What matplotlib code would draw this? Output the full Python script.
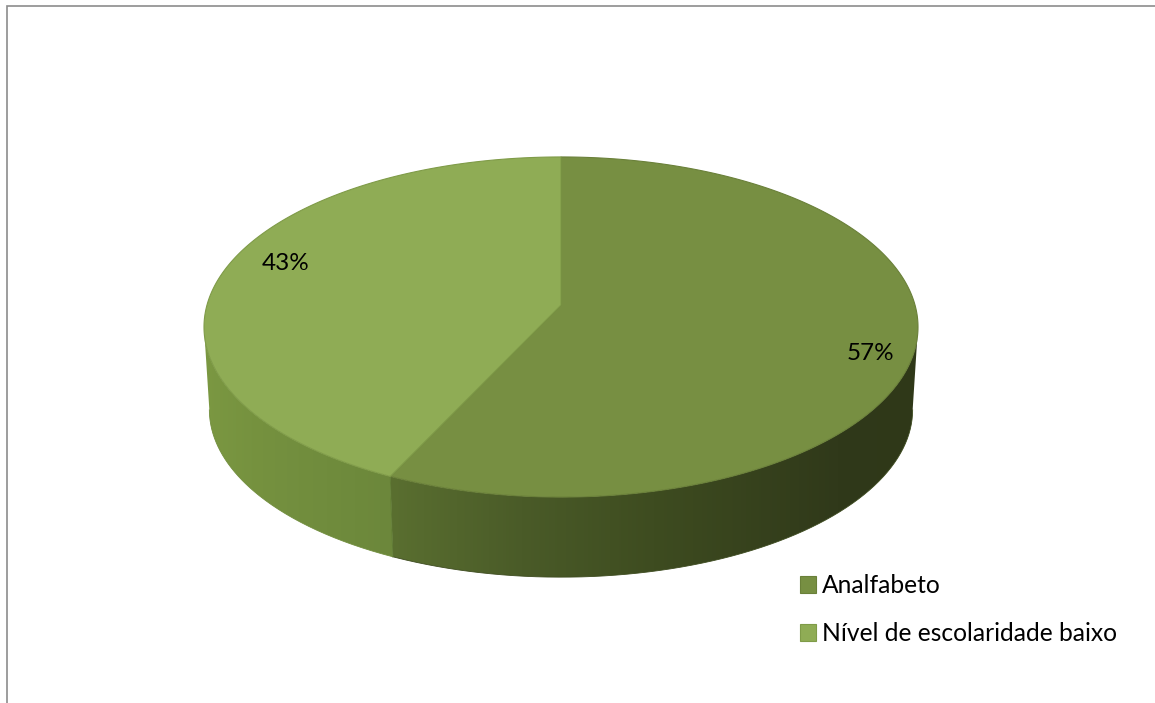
import numpy as np
import matplotlib
matplotlib.use('Agg')
import matplotlib.pyplot as plt
from matplotlib.colors import LinearSegmentedColormap
from matplotlib.patches import Patch, Polygon

categories = ['Analfabeto', 'Nível de escolaridade baixo']
values = [57, 43]
labels = ['57%', '43%']

top_colors = ['#778F42', '#8FAC55']
edge_colors = ['#6A8039', '#7F9B48']
side_ramps = [['#5A6F30', '#4A5B28', '#3E4C20', '#30391A', '#2F3818'],
              ['#7B9842', '#76923F', '#728E3E', '#6E8A3C', '#6C873B']]
side_stops = [[0.0, 0.25, 0.5, 0.85, 1.0], [0.0, 0.25, 0.5, 0.8, 1.0]]

plt.rcParams['font.family'] = ['Lato', 'DejaVu Sans']
fig = plt.figure(figsize=(11.55, 7.03), dpi=100)
ax = fig.add_axes([0, 0, 1, 1])
ax.set_xlim(0, 1155)
ax.set_ylim(703, 0)
ax.axis('off')

# perspective projection of the round pie onto the page
cx, cy = 561, 305
a, b, k = 354, 167.2, 0.1294

def rim(theta, scale=1.0, y0=cy):
    X, Y = np.sin(theta), -np.cos(theta)
    w = 1 - k * Y
    return cx + scale * a * X / w, y0 + scale * b * Y / w

def bottom_rim(theta):
    return rim(theta, 0.985, 388)

grid = np.radians(np.linspace(0, 360, 1441))
gx, gy = rim(grid)
t_right = grid[np.argmax(gx)]
t_left = grid[np.argmin(gx)]

edges = np.radians(np.cumsum([0] + values) * 3.6)

# side walls, only the part that faces the front
for i in range(2):
    t0 = max(edges[i], t_right)
    t1 = min(edges[i + 1], t_left)
    t = np.linspace(t0, t1, 200)
    x1, y1 = rim(t)
    x2, y2 = bottom_rim(t)
    pts = np.column_stack([np.r_[x1, x2[::-1]], np.r_[y1, y2[::-1]]])
    poly = Polygon(pts, closed=True, fc='none', ec='none')
    ax.add_patch(poly)
    cmap = LinearSegmentedColormap.from_list('side', list(zip(side_stops[i], side_ramps[i])))
    xa, xb = pts[:, 0].min(), pts[:, 0].max()
    ya, yb = pts[:, 1].min(), pts[:, 1].max()
    ramp = np.linspace(0, 1, 256).reshape(1, -1)
    im = ax.imshow(ramp, cmap=cmap, extent=[xa, xb, yb, ya], aspect='auto', zorder=2)
    im.set_clip_path(poly)
    ax.plot(x2, y2, color=side_ramps[i][2], lw=0.6, zorder=2)

ax.set_xlim(0, 1155)
ax.set_ylim(703, 0)

# top face slices
for i in range(2):
    t = np.linspace(edges[i], edges[i + 1], 300)
    x, y = rim(t)
    pts = np.column_stack([np.r_[cx, x], np.r_[cy, y]])
    ax.add_patch(Polygon(pts, closed=True, fc=top_colors[i], ec=edge_colors[i], lw=0.8, zorder=3))

# seam between the two side walls
tm = edges[1]
ax.plot([rim(tm)[0], bottom_rim(tm)[0]], [rim(tm)[1], bottom_rim(tm)[1]], color='#5F7A33', lw=0.7, zorder=2.5)

ax.text(870.5, 353, labels[0], ha='center', va='center', fontsize=17.5, color='black', zorder=4)
ax.text(285.5, 263, labels[1], ha='center', va='center', fontsize=17.5, color='black', zorder=4)

handles = [Patch(fc=top_colors[i], ec=edge_colors[i], lw=0.8) for i in range(2)]
ax.legend(handles, categories, loc='upper left', bbox_to_anchor=(800 / 1155, 1 - 574 / 703),
          frameon=False, fontsize=17.7, handlelength=0.67, handleheight=0.67, handletextpad=0.22,
          labelspacing=1.01, borderpad=0, borderaxespad=0)

# chart frame
ax.plot([1155, 6.5, 6.5], [5.5, 5.5, 703], color='#8C8C8C', lw=1.2, zorder=5, solid_joinstyle='miter', clip_on=False)

fig.savefig('out.png', dpi=100)
